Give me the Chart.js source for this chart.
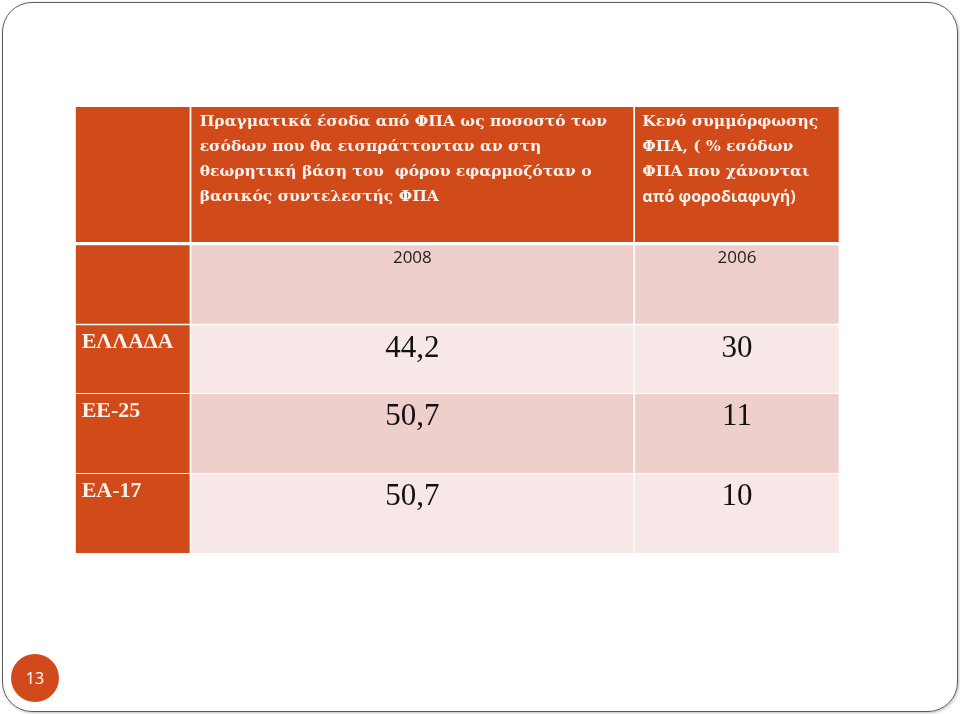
<!DOCTYPE html>
<html>
<head>
<meta charset="utf-8">
<script src="https://cdn.jsdelivr.net/npm/chart.js@4.4.0/dist/chart.umd.min.js"></script>
<style>
html, body { margin: 0; padding: 0; background: #fff; }
#slide { position: absolute; left: 2px; top: 2px; width: 954px; height: 708px; border: 1.3px solid #5b5b5b; border-radius: 30px; box-shadow: 1px 1px 3px rgba(0,0,0,0.25); }
#wrap { position: absolute; left: 0; top: 0; width: 960px; height: 714px; }
#page { position: absolute; left: 11px; top: 654px; width: 48px; height: 48px; border-radius: 50%; background: #d14a1c; color: #fff; font: 16px "Open Sans", sans-serif; text-align: center; line-height: 48px; }
</style>
</head>
<body>
<div id="slide"></div>
<div id="wrap"><canvas id="tableChart" width="960" height="714"></canvas></div>
<div id="page">13</div>
<script>
// table content
const regions = ['ΕΛΛΑΔΑ', 'ΕΕ-25', 'ΕΑ-17'];
const years = ['2008', '2006'];
const vatRevenueShare = [44.2, 50.7, 50.7];
const vatGap = [30, 11, 10];
const headRevenue = ['Πραγματικά έσοδα από ΦΠΑ ως ποσοστό των', 'εσόδων που θα εισπράττονταν αν στη', 'θεωρητική βάση του  φόρου εφαρμοζόταν ο', 'βασικός συντελεστής ΦΠΑ'];
const headGap = ['Κενό συμμόρφωσης', 'ΦΠΑ, ( % εσόδων', 'ΦΠΑ που χάνονται', 'από φοροδιαφυγή)'];

// grid layout (chart units = px inside the chart area)
var colEdges = [[0, 113.6], [116, 557.3], [559.6, 763]];
var rowEdges = [[0, 134.7], [138.7, 216.3], [218.7, 285.7], [287.3, 365.7], [367.3, 446]];

var orange = '#d04a1a';
var pinkDark = '#efcfcc';
var pinkLight = '#f7e8e7';
var rowFill = [orange, pinkDark, pinkLight, pinkDark, pinkLight];

var datasets = colEdges.map(function (col, c) {
    return {
        label: 'col' + c,
        data: rowEdges.map(function (row) { return { x: (col[0] + col[1]) / 2, y: [row[0], row[1]] }; }),
        barThickness: col[1] - col[0],
        backgroundColor: c === 0 ? orange : rowFill,
        borderWidth: 0,
        stack: 'grid'
    };
});

function comma(v, d) { return v.toFixed(d).replace('.', ','); }

var cellText = {
    id: 'cellText',
    afterDatasetsDraw: function (chart) {
        var ctx = chart.ctx;
        ctx.save();
        ctx.textBaseline = 'middle';
        chart.data.datasets.forEach(function (ds, c) {
            chart.getDatasetMeta(c).data.forEach(function (bar, r) {
                var p = bar.getProps(['x', 'y', 'base', 'width'], true);
                var top = Math.min(p.y, p.base), left = p.x - p.width / 2;
                if (r === 0 && c > 0) {
                    var lines = c === 1 ? headRevenue : headGap;
                    ctx.fillStyle = '#fdf1ec';
                    ctx.textAlign = 'left';
                    lines.forEach(function (t, i) {
                        ctx.font = (c === 2 && i === 3) ? 'bold 16px "Open Sans"' : 'bold 15.5px "DejaVu Serif"';
                        ctx.fillText(t, left + (c === 1 ? 8 : 7), top + 15 + i * 25);
                    });
                } else if (r === 1 && c > 0) {
                    ctx.fillStyle = '#222';
                    ctx.textAlign = 'center';
                    ctx.font = '17px "Open Sans"';
                    ctx.fillText(years[c - 1], p.x, top + 12);
                } else if (r >= 2) {
                    var i2 = r - 2;
                    if (c === 0) {
                        ctx.fillStyle = '#fdf1ec';
                        ctx.textAlign = 'left';
                        ctx.font = 'bold 22px "Liberation Serif"';
                        ctx.fillText(regions[i2], left + 6, top + 17);
                    } else {
                        ctx.fillStyle = '#111';
                        ctx.textAlign = 'center';
                        ctx.font = '31px "Liberation Serif"';
                        ctx.fillText(c === 1 ? comma(vatRevenueShare[i2], 1) : String(vatGap[i2]), p.x, top + 23);
                    }
                }
            });
        });
        ctx.restore();
    }
};

var ctx = document.getElementById('tableChart').getContext('2d');
var tableChart = new Chart(ctx, {
    type: 'bar',
    data: { datasets: datasets },
    options: {
        responsive: false,
        devicePixelRatio: 1,
        animation: false,
        layout: { padding: { left: 75.7, top: 107, right: 121.3, bottom: 161 } },
        plugins: { legend: { display: false }, tooltip: { enabled: false } },
        scales: {
            x: { type: 'linear', min: 0, max: 763, display: false, stacked: true, offset: false },
            y: { type: 'linear', min: 0, max: 446, reverse: true, display: false }
        }
    },
    plugins: [cellText]
});
</script>
</body>
</html>
